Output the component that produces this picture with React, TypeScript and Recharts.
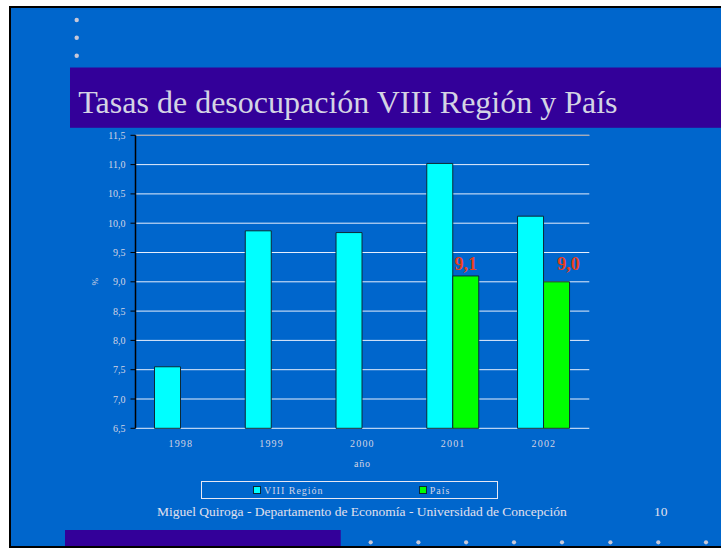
import React from 'react';
import {
  BarChart,
  Bar,
  XAxis,
  YAxis,
  CartesianGrid,
  ReferenceLine,
} from 'recharts';

const years = ['1998', '1999', '2000', '2001', '2002'];
const regionValues = [7.55, 9.87, 9.84, 11.02, 10.12];
const paisValues: (number | null)[] = [null, null, null, 9.1, 9.0];
const yTicks = [6.5, 7, 7.5, 8, 8.5, 9, 9.5, 10, 10.5, 11, 11.5];
const edgeTicks = [0, 1, 2, 3, 4, 5];
const seriesNames = ['VIII Región', 'País'];
const seriesColors = ['#00FFFF', '#00FF00'];
const titleText = 'Tasas de desocupación VIII Región y País';
const footerText = 'Miguel Quiroga - Departamento de Economía - Universidad de Concepción';
const pageNumber = '10';
const xLabel = 'año';
const yLabel = '%';

const data = years.map((y, i) => ({
  year: y,
  region: regionValues[i],
  pais: paisValues[i],
  idx: i + 0.5,
}));

const SERIF = '"Liberation Serif", "Times New Roman", serif';
const LIGHT = '#d4d4e4';
const BLUE = '#0066CC';
const PURPLE = '#330099';

const fmt = (v: number) => v.toFixed(1).replace('.', ',');

const PaisLabel = (props: any) => {
  const { x, y, width, value } = props;
  if (value == null) return null;
  const last = Number(value) === paisValues[paisValues.length - 1];
  return (
    <text
      x={Number(x) + Number(width) / 2 + (last ? 12 : 0)}
      y={Number(y) - (last ? 12 : 6)}
      textAnchor="middle"
      fill="#e8401c"
      fontFamily={SERIF}
      fontWeight="bold"
      fontSize={18}
    >
      {fmt(Number(value))}
    </text>
  );
};

export default function App() {
  const topDots = [20, 37.7, 55.7];
  const bottomDots = [370.7, 418.4, 466.1, 514, 562, 610.4, 658.3, 706];
  return (
    <div
      style={{
        position: 'absolute',
        left: 0,
        top: 0,
        width: 721,
        height: 548,
        background: '#ffffff',
        overflow: 'hidden',
      }}
    >
      <svg
        width={721}
        height={548}
        style={{ position: 'absolute', left: 0, top: 0 }}
      >
        <rect x={9} y={6} width={720} height={542} fill="#000" />
        <rect x={11} y={8} width={720} height={538} fill={BLUE} />
        {topDots.map((cy) => (
          <circle key={cy} cx={76.7} cy={cy} r={2.2} fill="#c8c8d8" />
        ))}
        <rect x={70} y={67.5} width={660} height={60.3} fill={PURPLE} />
        <text
          x={78.3}
          y={113.3}
          fill={LIGHT}
          fontFamily={SERIF}
          fontSize={32}
        >
          {titleText}
        </text>
        <text x={157} y={516} fill="#e0e0ee" fontFamily={SERIF} fontSize={13.5}>
          {footerText}
        </text>
        <text x={654} y={516} fill="#e0e0ee" fontFamily={SERIF} fontSize={13.5}>
          {pageNumber}
        </text>
        <rect x={65} y={530} width={275.7} height={16} fill={PURPLE} />
        {bottomDots.map((cx) => (
          <circle key={cx} cx={cx} cy={542.3} r={2.1} fill="#c8c8d8" />
        ))}
      </svg>

      <div style={{ position: 'absolute', left: 0, top: 0 }}>
        <BarChart
          width={721}
          height={548}
          data={data}
          margin={{ top: 135.3, right: 131.7, left: 85.5, bottom: 70 }}
          barGap={0}
        >
          <CartesianGrid vertical={false} stroke="#e6eefc" strokeWidth={1} />
          <XAxis
            xAxisId="edges"
            type="number"
            dataKey="idx"
            domain={[0, 5]}
            ticks={edgeTicks}
            height={0}
            axisLine={{ stroke: '#ffffff', strokeWidth: 1.5 }}
            tickLine={{ stroke: '#ffffff' }}
            tickSize={4}
            tick={false}
            allowDataOverflow
          />
          <XAxis
            dataKey="year"
            height={49.7}
            axisLine={false}
            tickLine={false}
            tickSize={4}
            tickMargin={8}
            tick={{
              fill: LIGHT,
              fontSize: 10,
              fontFamily: SERIF,
              letterSpacing: 1.2,
            }}
            label={(p: any) => {
              const vb = p.viewBox;
              return (
                <text
                  x={vb.x + vb.width / 2}
                  y={vb.y + 39}
                  textAnchor="middle"
                  fill={LIGHT}
                  fontFamily={SERIF}
                  fontSize={10}
                  letterSpacing={0.8}
                >
                  {xLabel}
                </text>
              );
            }}
          />
          <YAxis
            domain={[6.5, 11.5]}
            ticks={yTicks}
            width={50}
            axisLine={{ stroke: '#000000', strokeWidth: 1.5 }}
            tickLine={{ stroke: '#000000' }}
            tickSize={5}
            tickMargin={5}
            tickFormatter={fmt}
            tick={{ fill: LIGHT, fontSize: 10, fontFamily: SERIF }}
            interval={0}
            label={(p: any) => {
              const vb = p.viewBox;
              const cx = vb.x + 9.5;
              const cy = vb.y + vb.height / 2;
              return (
                <text
                  x={cx}
                  y={cy}
                  textAnchor="middle"
                  dominantBaseline="central"
                  transform={`rotate(-90 ${cx} ${cy})`}
                  fill={LIGHT}
                  fontFamily={SERIF}
                  fontSize={9}
                >
                  {yLabel}
                </text>
              );
            }}
          />
          <YAxis
            yAxisId="right"
            orientation="right"
            domain={[6.5, 11.5]}
            width={0}
            axisLine={{ stroke: '#9aa4b0' }}
            tickLine={false}
            tick={false}
          />
          <ReferenceLine y={11.5} stroke="#a0a0a8" strokeWidth={1} />
          <Bar
            dataKey="region"
            name={seriesNames[0]}
            fill={seriesColors[0]}
            stroke="#0c2a36"
            strokeWidth={1}
            barSize={26}
            isAnimationActive={false}
          />
          <Bar
            dataKey="pais"
            name={seriesNames[1]}
            fill={seriesColors[1]}
            stroke="#0c2a36"
            strokeWidth={1}
            barSize={26}
            isAnimationActive={false}
            label={PaisLabel}
          />
        </BarChart>
      </div>

      <div
        style={{
          position: 'absolute',
          left: 201,
          top: 481,
          width: 295,
          height: 15.5,
          border: '1px solid #e8e8f4',
        }}
      />
      {seriesNames.map((name, i) => (
        <div
          key={name}
          style={{
            position: 'absolute',
            left: i === 0 ? 253 : 418.7,
            top: 484,
            height: 12,
            display: 'flex',
            alignItems: 'center',
            fontFamily: SERIF,
            fontSize: 10,
            letterSpacing: 1,
            color: LIGHT,
            whiteSpace: 'nowrap',
          }}
        >
          <span
            style={{
              display: 'inline-block',
              width: 6,
              height: 6,
              background: seriesColors[i],
              border: '1px solid #0c2a36',
              marginRight: 3,
            }}
          />
          {name}
        </div>
      ))}
    </div>
  );
}
